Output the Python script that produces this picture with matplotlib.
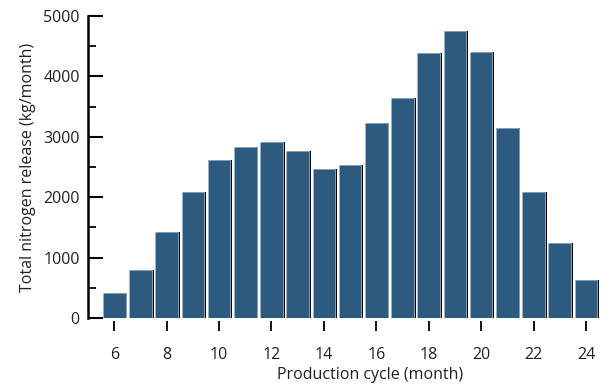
import matplotlib
matplotlib.use("Agg")
import matplotlib.pyplot as plt
import matplotlib.patheffects as pe
from matplotlib.ticker import MultipleLocator

# production cycle month and total nitrogen release (kg/month)
months = [6, 7, 8, 9, 10, 11, 12, 13, 14, 15, 16, 17, 18, 19, 20, 21, 22, 23, 24]
release = [413, 789, 1417, 2084, 2608, 2828, 2916, 2762, 2464, 2530,
           3230, 3634, 4395, 4747, 4411, 3143, 2080, 1235, 623]
xticks = [6, 8, 10, 12, 14, 16, 18, 20, 22, 24]

plt.rcParams['font.family'] = ['Open Sans', 'DejaVu Sans']
txt = '#231f20'
fs = 11.5

fig = plt.figure(figsize=(6.13, 3.84), dpi=100)
ax = fig.add_axes([0.1436, 0.1719, 0.855, 0.7865])

bars = ax.bar(months, release, width=0.86, color='#2d5a7f',
              edgecolor='#9fb3c6', linewidth=0.6)
for b in bars:
    b.set_path_effects([pe.SimplePatchShadow(offset=(1.3, 0), shadow_rgbFace='black', alpha=1),
                        pe.Normal()])

ax.set_xlim(5, 25)
ax.set_ylim(0, 5000)

for s in ['top', 'right', 'bottom']:
    ax.spines[s].set_visible(False)
ax.spines['left'].set_linewidth(1.8)

ax.set_xticks(xticks)
ax.yaxis.set_major_locator(MultipleLocator(1000))
ax.yaxis.set_minor_locator(MultipleLocator(500))
ax.tick_params(axis='y', which='major', direction='in', length=11, width=1.5,
               labelsize=fs, labelcolor=txt, pad=6)
ax.tick_params(axis='y', which='minor', direction='in', length=6, width=1.3)
ax.tick_params(axis='x', direction='out', length=7, width=1.3, pad=12,
               labelsize=fs, labelcolor=txt)
ax.spines['bottom'].set_position(('outward', 2))

ax.set_ylabel('Total nitrogen release (kg/month)', fontsize=fs, color=txt, labelpad=5)
ax.set_xlabel('Production cycle (month)', fontsize=fs, color=txt)
ax.xaxis.set_label_coords(0.538, -0.163)

fig.savefig('out.png', dpi=100)
